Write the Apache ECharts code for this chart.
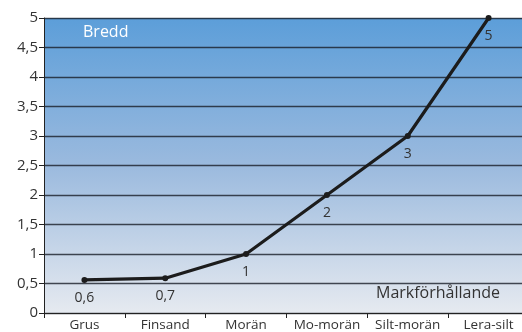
<!DOCTYPE html>
<html><head><meta charset="utf-8">
<script src="https://cdn.jsdelivr.net/npm/echarts@6/dist/echarts.min.js"></script>
<style>html,body{margin:0;padding:0;background:#fff}#c{width:522px;height:332px}</style>
</head><body><div id="c"></div>
<script>
const categories = ['Grus','Finsand','Morän','Mo-morän','Silt-morän','Lera-silt'];
const values = [0.56, 0.59, 1, 2, 3, 5];
const pointLabels = ['0,6','0,7','1','2','3','5'];
const yTicks = {min: 0, max: 5, step: 0.5};

const chart = echarts.init(document.getElementById('c'));
const font = 'Open Sans';
chart.setOption({
  animation: false,
  grid: {
    left: 44, width: 485, top: 18, bottom: 19, show: true, borderWidth: 0,
    outerBoundsMode: 'none', containLabel: false,
    backgroundColor: {type:'linear', x:0, y:0, x2:0, y2:1, colorStops:[
      {offset:0, color:'#5c9ed9'}, {offset:0.5, color:'#9bbade'}, {offset:1, color:'#e6eaf0'}]}
  },
  xAxis: {
    type: 'category', data: categories, boundaryGap: true,
    axisLine: {lineStyle: {color:'#222', width:1}},
    axisTick: {show:true, length:5, interval: 0, lineStyle:{color:'#222'}},
    axisLabel: {color:'#333', fontFamily: font, fontSize: 13.5, margin: 5, interval: 0},
    splitLine: {show:false}
  },
  yAxis: {
    type: 'value', min: yTicks.min, max: yTicks.max, interval: yTicks.step,
    axisLine: {show:true, lineStyle:{color:'#222', width:1}},
    axisTick: {show:true, length:5, lineStyle:{color:'#222'}},
    axisLabel: {color:'#333', fontFamily: font, fontSize: 15, margin: 6,
      formatter: v => String(v).replace('.', ',')},
    splitLine: {show:true, lineStyle:{color:'rgba(25,30,40,0.8)', width:1.3}}
  },
  series: [{
    type: 'line', data: values,
    symbol: 'circle', symbolSize: 6,
    lineStyle: {color:'#1c1c1c', width: 3.2},
    itemStyle: {color:'#1c1c1c'},
    label: {show:true, position:'bottom', distance: 8, color:'#333', fontFamily: font, fontSize: 14,
      formatter: p => pointLabels[p.dataIndex]}
  }],
  graphic: [
    {type:'text', left: 83, top: 24, style:{text:'Bredd', fill:'#fff', font:'16px "Open Sans"'}},
    {type:'text', left: 376, top: 285, style:{text:'Markförhållande', fill:'#333', font:'16px "Open Sans"'}}
  ]
});
</script></body></html>
